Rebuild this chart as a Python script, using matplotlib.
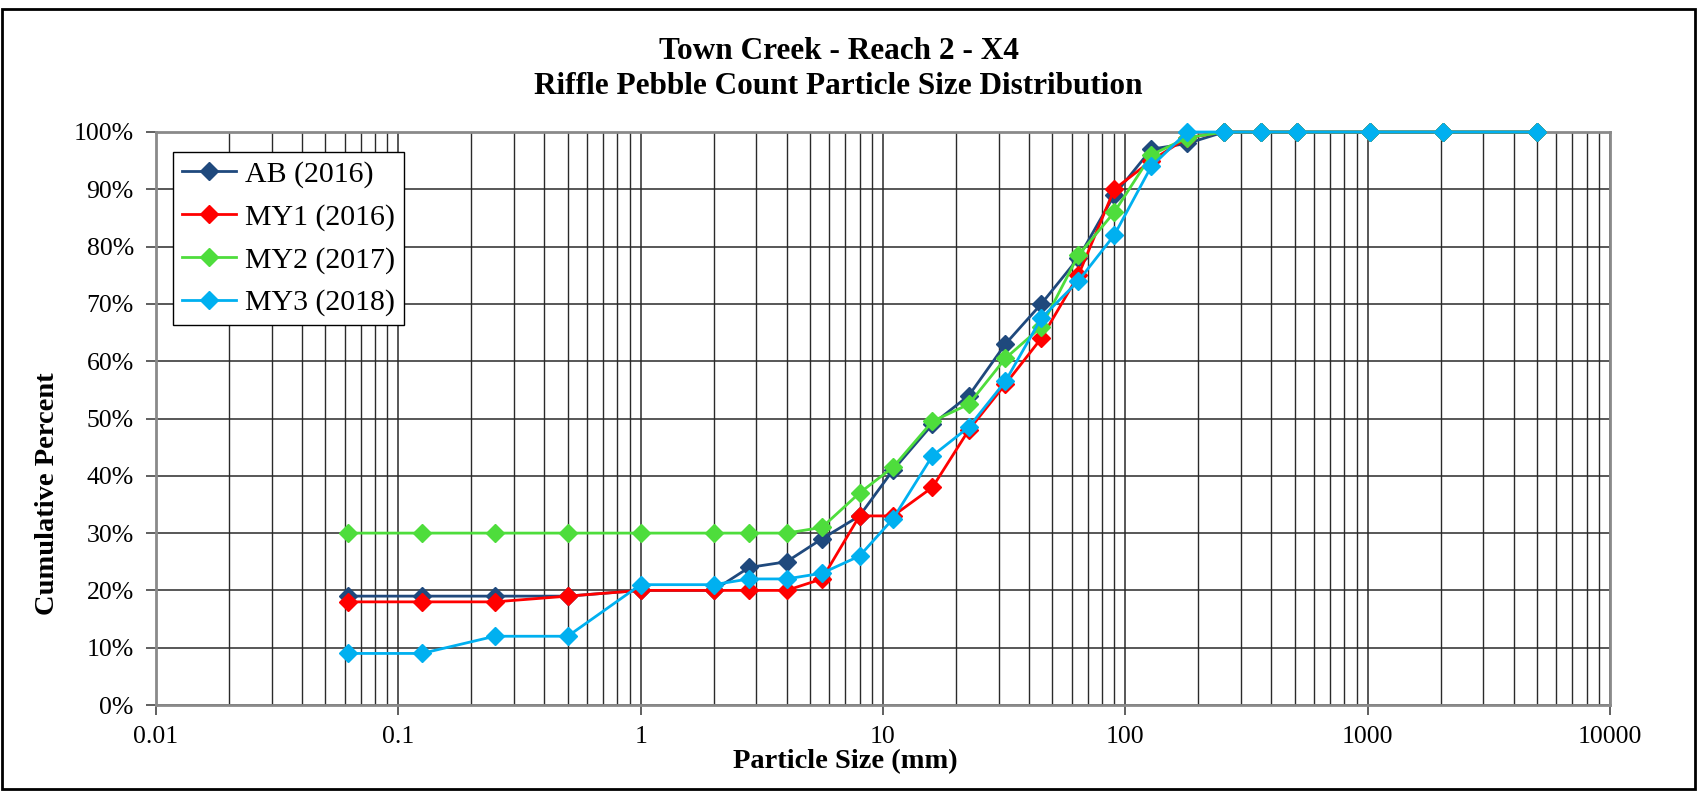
import matplotlib
matplotlib.use("Agg")
import matplotlib.pyplot as plt
from matplotlib.ticker import FixedLocator, FixedFormatter, LogLocator, NullFormatter
from matplotlib.patches import Rectangle

# ---- data ----
sizes = [0.062, 0.125, 0.25, 0.5, 1, 2, 2.8, 4, 5.6, 8, 11, 16, 22.6, 32, 45,
         64, 90, 128, 180, 256, 362, 512, 1024, 2048, 5000]
ab_2016 = [19, 19, 19, 19, 20, 20, 24, 25, 29, 33, 41, 49, 54, 63, 70,
           78, 89, 97, 98, 100, 100, 100, 100, 100, 100]
my1_2016 = [18, 18, 18, 19, 20, 20, 20, 20, 22, 33, 33, 38, 48, 56, 64,
            75, 90, 95, 99, 100, 100, 100, 100, 100, 100]
my2_2017 = [30, 30, 30, 30, 30, 30, 30, 30, 31, 37, 41.5, 49.5, 52.5, 60.5, 66,
            78.5, 86, 96, 99, 100, 100, 100, 100, 100, 100]
my3_2018 = [9, 9, 12, 12, 21, 21, 22, 22, 23, 26, 32.5, 43.5, 48.5, 56.5, 67.5,
            74, 82, 94, 100, 100, 100, 100, 100, 100, 100]
series_labels = ["AB (2016)", "MY1 (2016)", "MY2 (2017)", "MY3 (2018)"]
series_colors = ["#1F497D", "#FF0000", "#4EDD3C", "#00B0F0"]
x_ticks = [0.01, 0.1, 1, 10, 100, 1000, 10000]
x_ticklabels = ["0.01", "0.1", "1", "10", "100", "1000", "10000"]
y_ticks = list(range(0, 101, 10))
y_ticklabels = [f"{v}%" for v in y_ticks]
title_text = "Town Creek - Reach 2 - X4\nRiffle Pebble Count Particle Size Distribution"
x_label = "Particle Size (mm)"
y_label = "Cumulative Percent"

serif = ["Liberation Serif", "DejaVu Serif"]
plt.rcParams["font.family"] = serif

W, H = 1698, 793
fig = plt.figure(figsize=(W / 100, H / 100), dpi=100)
fig.patch.set_facecolor("white")

left, right, top, bottom = 156, 1610, 132, 705
ax = fig.add_axes([left / W, 1 - bottom / H, (right - left) / W, (bottom - top) / H])

ax.set_xscale("log")
ax.set_xlim(0.01, 10000)
ax.set_ylim(0, 100)

# grid
ax.xaxis.set_major_locator(FixedLocator(x_ticks))
ax.xaxis.set_major_formatter(FixedFormatter(x_ticklabels))
ax.xaxis.set_minor_locator(LogLocator(base=10, subs=range(2, 10), numticks=100))
ax.xaxis.set_minor_formatter(NullFormatter())
ax.yaxis.set_major_locator(FixedLocator(y_ticks))
ax.yaxis.set_major_formatter(FixedFormatter(y_ticklabels))
ax.grid(True, which="major", axis="both", color="#2a2a2a", linewidth=1.1)
ax.grid(True, which="minor", axis="x", color="#2a2a2a", linewidth=1.0)
ax.set_axisbelow(True)

for sp in ax.spines.values():
    sp.set_color("#8a8a8a")
    sp.set_linewidth(2.0)

ax.tick_params(axis="both", which="major", direction="out", length=7, width=1.2,
               color="#444444", labelsize=18.5, pad=9)
ax.tick_params(axis="x", which="minor", length=0)
ax.tick_params(axis="x", which="major", pad=8)

all_series = [ab_2016, my1_2016, my2_2017, my3_2018]
for vals, lab, col in zip(all_series, series_labels, series_colors):
    ax.plot(sizes, vals, color=col, linewidth=2.0, marker="D", markersize=9.5,
            markeredgecolor=col, markerfacecolor=col, label=lab, clip_on=False, zorder=3)

leg = ax.legend(loc="upper left", bbox_to_anchor=(173 / W, 1 - 152 / H),
                bbox_transform=fig.transFigure, borderaxespad=0, fontsize=21.5,
                frameon=True, fancybox=False, edgecolor="black", framealpha=1,
                handlelength=1.8, handletextpad=0.3, labelspacing=0.52,
                borderpad=0.3)
leg.get_frame().set_linewidth(1.0)

fig.text(0.494, 1 - 69 / H, title_text, ha="center", va="center", fontsize=22.5,
         fontweight="bold", linespacing=1.3)
fig.text(0.498, 1 - 762 / H, x_label, ha="center", va="center", fontsize=20.5,
         fontweight="bold")
fig.text(48 / W, 1 - 494 / H, y_label, ha="center", va="center", fontsize=20.5,
         fontweight="bold", rotation=90)

fig.patches.append(Rectangle((2 / W, 4 / H), 1693 / W, 780 / H, transform=fig.transFigure,
                             fill=False, edgecolor="black", linewidth=2.0))

fig.savefig("out.png", dpi=100)
